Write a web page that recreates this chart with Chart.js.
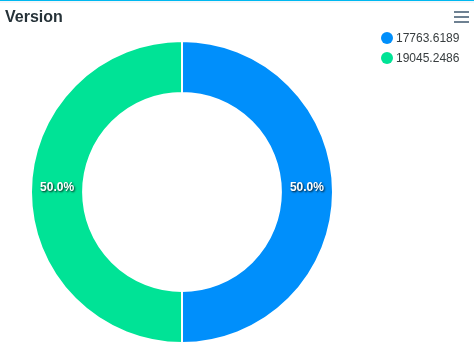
<!DOCTYPE html>
<html>
<head>
<meta charset="utf-8">
<script src="https://cdn.jsdelivr.net/npm/chart.js@4/dist/chart.umd.min.js"></script>
<style>
  html,body{margin:0;padding:0;background:#fff;}
  #wrap{position:relative;width:474px;height:357px;overflow:hidden;font-family:"Liberation Sans",Arial,sans-serif;}
  #topline{position:absolute;left:0;top:0;width:474px;height:1px;background:#00b8f0;}
  #topline2{position:absolute;left:0;top:1px;width:474px;height:2px;background:#f4f6f8;}
  #title{position:absolute;left:5px;top:8px;font-size:16px;font-weight:bold;color:#263238;}
  #menu{position:absolute;left:454px;top:11px;width:15px;}
  #menu div{height:2px;background:#6e8192;margin-bottom:3px;}
  #legend{position:absolute;left:381px;top:28px;font-size:12px;color:#373d3f;}
  .li{height:20px;display:flex;align-items:center;}
  .dot{width:12px;height:12px;border-radius:50%;margin-right:3px;}
  canvas{position:absolute;left:0;top:0;}
</style>
</head>
<body>
<div id="wrap">
  <div id="topline"></div><div id="topline2"></div>
  <canvas id="c" width="474" height="357"></canvas>
  <div id="title">Version</div>
  <div id="menu"><div></div><div></div><div></div></div>
  <div id="legend"></div>
</div>
<script>
const categories = ["17763.6189", "19045.2486"];
const values = [1, 1];
const colors = ["#008FFB", "#00E396"];

const legend = document.getElementById('legend');
categories.forEach((c, i) => {
  const d = document.createElement('div');
  d.className = 'li';
  d.innerHTML = '<span class="dot" style="background:' + colors[i] + '"></span><span>' + c + '</span>';
  legend.appendChild(d);
});

const pctLabels = {
  id: 'pctLabels',
  afterDatasetsDraw(chart) {
    const ctx = chart.ctx;
    const meta = chart.getDatasetMeta(0);
    const total = values.reduce((a, b) => a + b, 0);
    ctx.save();
    ctx.font = 'bold 12px "Liberation Sans", Arial, sans-serif';
    ctx.textAlign = 'center';
    ctx.textBaseline = 'middle';
    meta.data.forEach((arc, i) => {
      const p = arc.getProps(['x', 'y', 'startAngle', 'endAngle', 'innerRadius', 'outerRadius']);
      const a = (p.startAngle + p.endAngle) / 2;
      const r = (p.innerRadius + p.outerRadius) / 2;
      const x = p.x + Math.cos(a) * r;
      const y = p.y + Math.sin(a) * r - 4;
      const txt = (values[i] / total * 100).toFixed(1) + '%';
      ctx.shadowColor = 'rgba(0,0,0,0.85)';
      ctx.shadowBlur = 2;
      ctx.shadowOffsetX = 1;
      ctx.shadowOffsetY = 1;
      ctx.fillStyle = '#fff';
      ctx.fillText(txt, x, y);
    });
    ctx.restore();
  }
};

new Chart(document.getElementById('c'), {
  type: 'doughnut',
  data: {
    labels: categories,
    datasets: [{
      data: values,
      backgroundColor: colors,
      borderColor: '#fff',
      borderWidth: 2,
      hoverOffset: 0
    }]
  },
  options: {
    responsive: false,
    animation: false,
    cutout: '65.5%',
    layout: { padding: { left: 30, right: 140, top: 40, bottom: 13 } },
    plugins: { legend: { display: false }, tooltip: { enabled: false } }
  },
  plugins: [pctLabels]
});
</script>
</body>
</html>
